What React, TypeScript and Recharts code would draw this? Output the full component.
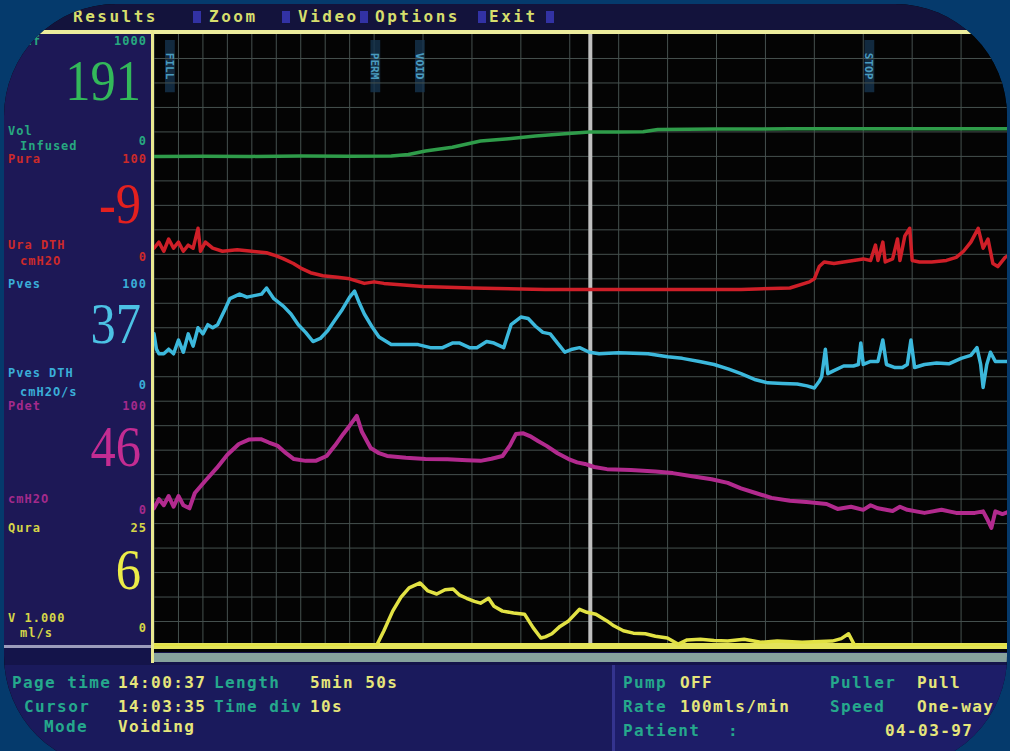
import React from 'react';
import { LineChart, Line, XAxis, YAxis, CartesianGrid, ReferenceLine, ReferenceArea } from 'recharts';

type Pt = [number, number];

// ---------- data ----------
const menuItems = ['Results', 'Zoom', 'Video', 'Options', 'Exit'];

// 10 s per vertical division, 4 ml/s per horizontal division on the flow scale
const gridTimes = [0, 10, 20, 30, 40, 50, 60, 70, 80, 90, 100, 110, 120, 130, 140, 150, 160, 170, 180, 190, 200, 210, 220, 230, 240, 250, 260, 270, 280, 290, 300, 310, 320, 330, 340, 350];
const gridRows = [4, 8, 12, 16, 20, 24, 28, 32, 36, 40, 44, 48, 52, 56, 60, 64, 68, 72, 76, 80, 84, 88, 92, 96];

// infused volume (ml)
const volumeTrace: Pt[] = [
  [0, 171], [20, 171.2], [40, 171], [60, 171.3], [80, 171.2], [97, 171.3], [104, 172.5], [111, 175.4],
  [122, 178.5], [133.5, 183.6], [145, 185.5], [156, 187.7], [168, 189.5], [178, 190.9], [190, 191],
  [200, 191.2], [206, 193], [230, 193.4], [260, 193.5], [300, 193.5], [350, 193.5],
];

// urethral pressure (cmH2O)
const uraTrace: Pt[] = [
  [0, 3], [2, 5], [4, 2], [6, 6], [8, 3], [10, 5], [12, 2], [14, 4], [16, 3], [18, 9.5], [19, 2], [21, 5],
  [24, 3], [28, 2], [34, 2.5], [40, 2], [46, 1.5], [50, 0.5], [53, -0.5], [57, -2], [60, -3.5], [64, -5],
  [69, -6], [75, -6.5], [80, -7], [86, -8.5], [90, -8], [94, -8.5], [110, -9.5], [130, -10], [160, -10.5],
  [180, -10.5], [210, -10.5], [240, -10.5], [260, -10], [268, -8], [270, -7], [272, -3], [274, -1.5],
  [278, -2], [282, -1.5], [286, -1], [290, -0.5], [293, -1], [295, 4], [296, -1], [298, 5], [299, -1.5],
  [302, -0.5], [304, 6], [305, -1], [307, 7], [309, 9.5], [310, -1], [313, -1.5], [318, -1.5], [324, -1],
  [328, 0], [331, 2], [334, 5], [337, 9.5], [339, 3], [341, 6], [343, -2], [345, -3], [348, 0], [350, 1],
];

// vesical pressure (cmH2O)
const vesTrace: Pt[] = [
  [0, 43], [1, 38], [2, 36.5], [4, 36.5], [6, 38], [8, 36.5], [10, 41], [12, 37], [14, 43], [16, 39],
  [18, 45], [20, 43], [22, 46], [24, 45], [26, 46], [29, 51], [31, 54.5], [35, 56], [38, 55], [41, 55.5],
  [44, 56], [46, 58], [49, 54.5], [53, 52], [56, 49.5], [59, 46], [62, 43.5], [65, 40.5], [68, 41.5],
  [71, 44], [74, 47.5], [77, 51], [80, 55], [82, 57], [84, 53], [86, 49.5], [89, 45.5], [92, 42],
  [97, 39.5], [103, 39.5], [108, 39.5], [113, 38.5], [118, 38.5], [122, 40], [125, 40], [129, 38.5],
  [132, 38.5], [136, 40.5], [139, 40], [143, 38.5], [146, 46], [150, 48.5], [153, 48], [156, 45.5],
  [159, 43.5], [162, 43], [165, 40], [168, 37], [171, 38], [174, 38.5], [178, 37], [182, 36.5],
  [190, 36.8], [202, 36.5], [210, 35.5], [216, 35], [223, 34], [229, 33], [235, 31.5], [240, 30],
  [246, 28], [251, 27], [257, 26.8], [263, 26.6], [267, 26], [270, 25.3], [272, 27.5], [273, 29],
  [274.5, 38], [275.5, 30], [278, 31], [282, 32.5], [286, 32.5], [288, 33], [289, 40], [290, 33],
  [293, 34], [296, 34], [298, 41], [299.5, 33], [303, 32], [306, 32], [308, 33], [309.5, 41], [311, 32],
  [315, 33], [320, 33.5], [325, 33.2], [330, 35], [334, 36], [336.5, 38.5], [338, 33], [339, 25.5],
  [340.5, 33], [342, 37], [344, 34], [347, 34], [350, 34],
];

// detrusor pressure (cmH2O)
const detTrace: Pt[] = [
  [0, 33], [2, 36], [4, 34], [6, 37], [8, 33.5], [10, 37], [12, 34], [14.5, 33], [16.7, 38], [21, 42],
  [25.7, 46.2], [30, 50.5], [34.7, 54], [39, 55.5], [43.7, 55.6], [47, 54.5], [50.4, 53.5], [54, 51],
  [57.2, 49.1], [62, 48.5], [66.1, 48.5], [70.6, 50.1], [74, 53.5], [77.4, 57.3], [80, 60], [82.9, 63.2],
  [85, 58], [88.6, 52.7], [92, 51], [95.3, 50.1], [103, 49.5], [111, 49.1], [120, 49], [128, 48.7],
  [133.5, 48.5], [138, 49.2], [142.5, 50.1], [145.5, 53.5], [148, 57.3], [151, 57.5], [153.7, 56.6],
  [157, 55], [160.5, 53.4], [165, 51], [169.5, 49.1], [173, 48], [176.2, 47.5], [180, 46.5],
  [185.2, 45.8], [195, 45.5], [205, 45], [212.1, 44.5], [220, 43.5], [228, 42.5], [234.6, 41.3],
  [240, 39.5], [246, 38], [252.5, 36.4], [260, 35.5], [268, 35], [275, 34.4], [279.5, 32.8], [285, 33.5],
  [290, 32.5], [293, 34], [296, 33], [302, 32.1], [305, 33.5], [308, 32.5], [315, 31.5], [322, 32.5],
  [328, 31.5], [335.6, 31.5], [339, 32], [341, 29], [342.4, 26.6], [344, 32], [346.9, 31.1], [350, 32],
];

// urine flow (ml/s)
const flowTrace: Pt[] = [
  [0, 0], [90.9, 0], [94, 2.5], [97.6, 5.7], [101, 8], [104.3, 9.5], [108.8, 10.3], [112, 9],
  [115.6, 8.5], [119, 9.2], [122.3, 9.3], [125, 8.3], [127.8, 7.8], [131, 7.3], [133.5, 7],
  [136.8, 7.8], [139, 6.5], [142.5, 5.7], [147, 5.4], [151.5, 5.2], [155, 3], [158.2, 1.3], [160, 1.5],
  [162.7, 2], [166, 3.2], [169.5, 4.1], [174, 6], [177, 5.5], [180.7, 5.2], [185.2, 4.1], [188, 3.3],
  [191.9, 2.5], [196, 2.1], [200.9, 2], [205, 1.6], [209.9, 1.3], [214.4, 0.3], [218, 1], [223.4, 1.1],
  [229, 0.9], [234.6, 0.8], [241.3, 1.1], [248, 0.6], [254.8, 0.8], [265, 0.6], [277.3, 0.8], [281, 1.2],
  [284, 2], [286.2, 0.3], [288, 0], [350, 0],
];

const cursorTime = 178.4;
const eventTimes = [6.5, 90.5, 108.7, 292.5];
const eventLabels = ['FILL', 'PERM', 'VOID', 'STOP'];
const eventBand = [90.5, 99];

const channelNames = ['Vinf', 'Pura', 'Pves', 'Pdet', 'Qura'];
const channelFullScale = ['1000', '100', '100', '100', '25'];
const channelZero = ['0', '0', '0', '0', '0'];
const channelReadouts = ['191', '-9', '37', '46', '6'];
const channelUnits = [['Vol', 'Infused'], ['Ura DTH', 'cmH2O'], ['Pves DTH', 'cmH2O/s'], ['cmH2O', ''], ['V 1.000', 'ml/s']];

const infoLeftLabels = ['Page time', 'Cursor', 'Mode'];
const infoLeftValues = ['14:00:37', '14:03:35', 'Voiding'];
const infoMidLabels = ['Length', 'Time div'];
const infoMidValues = ['5min 50s', '10s'];
const infoPumpLabels = ['Pump', 'Rate', 'Patient'];
const infoPumpValues = ['OFF', '100mls/min', ''];
const infoPullLabels = ['Puller', 'Speed'];
const infoPullValues = ['Pull', 'One-way'];
const patientDate = '04-03-97';

// ---------- styling ----------
const toRows = (pts: Pt[]) => pts.map(([t, v]) => ({ t, v }));

const channelStyle = [
  { id: 'vol', color: '#2f9c4a', label: '#27a880', big: '#33b85a', domain: [-229, 271], w: 3.5 },
  { id: 'ura', color: '#cf1f28', label: '#cc2a2a', big: '#e3201f', domain: [-127, 73], w: 3.5 },
  { id: 'ves', color: '#3cb8dc', label: '#3aaed8', big: '#4cc2e4', domain: [-59, 141], w: 3.5 },
  { id: 'det', color: '#b22a8e', label: '#a42a8c', big: '#c42c92', domain: [-12, 188], w: 4 },
  { id: 'flow', color: '#e2e244', label: '#d6d648', big: '#ecec48', domain: [0, 100], w: 3.5 },
];
const traces = [volumeTrace, uraTrace, vesTrace, detTrace, flowTrace];

const panelTop = [34, 152, 277, 399, 521];
const digitTop = [60, 183, 303, 426, 549];
const unitTop = [[124, 139], [238, 254], [366, 385], [492, 0], [611, 626]];
const zeroTop = [134, 250, 378, 503, 621];

const mono = '"DejaVu Sans Mono", "Liberation Mono", monospace';
const gridColor = '#46514f';

const small: React.CSSProperties = {
  position: 'absolute', fontFamily: mono, fontWeight: 'bold', fontSize: 12, lineHeight: '14px',
  letterSpacing: 1, whiteSpace: 'pre',
};
const info: React.CSSProperties = {
  position: 'absolute', fontFamily: mono, fontWeight: 'bold', fontSize: 16, lineHeight: '18px',
  letterSpacing: 1.4, whiteSpace: 'pre',
};
const infoGreen = '#25a88c';
const infoYellow = '#e6e67a';

export default function App() {
  const menuX = [73, 209, 298, 375, 489];
  const sepX = [193, 282, 360, 478, 546];
  const leftRowTop = [674, 698, 718];
  const leftLabelX = [12, 24, 44];
  const rightRowTop = [674, 698, 722];
  return (
    <div style={{ position: 'fixed', left: 0, top: 0, width: 1010, height: 751, background: '#053a6c', overflow: 'hidden' }}>
      <div style={{ position: 'absolute', left: 4, top: 4, width: 1003, height: 764, borderRadius: 112, overflow: 'hidden', background: '#050505' }}>
        <div style={{ position: 'absolute', left: -4, top: -4, width: 1010, height: 751 }}>
          {/* menu bar */}
          <div style={{ position: 'absolute', left: 0, top: 4, width: 1010, height: 26, background: '#13133c' }} />
          {menuItems.map((m, i) => (
            <div key={m} style={{ position: 'absolute', left: menuX[i], top: 7, fontFamily: mono, fontWeight: 'bold', fontSize: 16, lineHeight: '20px', letterSpacing: 2.5, color: '#d6de6c' }}>{m}</div>
          ))}
          {sepX.map((x, i) => (
            <div key={i} style={{ position: 'absolute', left: x, top: 11, width: 8, height: 12, background: '#3232a4' }} />
          ))}
          <div style={{ position: 'absolute', left: 0, top: 30, width: 1010, height: 4, background: '#ecec9c' }} />

          {/* left channel panel */}
          <div style={{ position: 'absolute', left: 0, top: 34, width: 151, height: 611, background: '#1d1856' }} />
          {channelStyle.map((c, i) => (
            <React.Fragment key={c.id}>
              <div style={{ ...small, left: 8, top: panelTop[i], color: c.label }}>{channelNames[i]}</div>
              <div style={{ ...small, left: 0, width: 147, textAlign: 'right', top: panelTop[i], color: c.label }}>{channelFullScale[i]}</div>
              <div style={{ position: 'absolute', left: 0, width: 141, textAlign: 'right', top: digitTop[i], fontFamily: '"Liberation Serif", serif', fontSize: 58, lineHeight: '42px', color: c.big, transform: 'scaleX(0.87)', transformOrigin: 'right center' }}>{channelReadouts[i]}</div>
              <div style={{ ...small, left: 8, top: unitTop[i][0], color: c.label }}>{channelUnits[i][0]}</div>
              {channelUnits[i][1] ? <div style={{ ...small, left: 20, top: unitTop[i][1], color: c.label }}>{channelUnits[i][1]}</div> : null}
              <div style={{ ...small, left: 0, width: 147, textAlign: 'right', top: zeroTop[i], color: c.label }}>{channelZero[i]}</div>
            </React.Fragment>
          ))}
          <div style={{ position: 'absolute', left: 0, top: 645, width: 151, height: 3, background: '#9c9cbc' }} />
          <div style={{ position: 'absolute', left: 0, top: 648, width: 1010, height: 17, background: '#14144a' }} />
          <div style={{ position: 'absolute', left: 154, top: 653, width: 856, height: 9, background: '#86a29c' }} />
          <div style={{ position: 'absolute', left: 151, top: 30, width: 3, height: 633, background: '#e8e890' }} />

          {/* plot */}
          <div style={{ position: 'absolute', left: 154, top: 34, width: 856, height: 618 }}>
            <LineChart width={856} height={618} margin={{ top: 0, right: 0, bottom: 6, left: 0 }} style={{ background: '#040404' }}>
              <XAxis type="number" dataKey="t" domain={[0, 350]} ticks={gridTimes} hide />
              <YAxis type="number" domain={[0, 100]} hide />
              {channelStyle.map((c) => (
                <YAxis key={c.id} yAxisId={c.id} type="number" domain={c.domain} hide allowDataOverflow />
              ))}
              <CartesianGrid stroke={gridColor} strokeWidth={1} horizontal={false} />
              {gridRows.map((r) => (
                <ReferenceLine key={'row' + r} y={r} yAxisId="flow" stroke={gridColor} strokeWidth={1} />
              ))}
              {eventTimes.map((t, i) => (
                <ReferenceArea key={'ev' + i} x1={t - 2} x2={t + 2} y1={eventBand[0]} y2={eventBand[1]} yAxisId="flow"
                  fill="#17344f" fillOpacity={0.8} stroke="none"
                  label={{ value: eventLabels[i], angle: 90, fill: '#4a9cc0', fontSize: 11, fontFamily: mono, fontWeight: 'bold' }} />
              ))}
              <ReferenceLine x={cursorTime} yAxisId="flow" stroke="#c0c0c0" strokeWidth={4} />
              <ReferenceLine y={0} yAxisId="flow" stroke="#e4e45a" strokeWidth={6} />
              {channelStyle.map((c, i) => (
                <Line key={c.id} yAxisId={c.id} data={toRows(traces[i])} dataKey="v" type="linear"
                  stroke={c.color} strokeWidth={c.w} dot={false} isAnimationActive={false}
                  strokeLinejoin="round" strokeLinecap="round" />
              ))}
            </LineChart>
          </div>

          {/* bottom info panel */}
          <div style={{ position: 'absolute', left: 0, top: 665, width: 1010, height: 90, background: '#1a1a5c' }} />
          <div style={{ position: 'absolute', left: 612, top: 665, width: 398, height: 90, background: '#1d1d68', borderLeft: '3px solid #34348e' }} />
          {infoLeftLabels.map((l, i) => (
            <div key={l} style={{ ...info, left: leftLabelX[i], top: leftRowTop[i], color: infoGreen }}>{l}</div>
          ))}
          {infoLeftValues.map((v, i) => (
            <div key={v} style={{ ...info, left: 118, top: leftRowTop[i], color: infoYellow }}>{v}</div>
          ))}
          {infoMidLabels.map((l, i) => (
            <div key={l} style={{ ...info, left: 214, top: leftRowTop[i], color: infoGreen }}>{l}</div>
          ))}
          {infoMidValues.map((v, i) => (
            <div key={v} style={{ ...info, left: 310, top: leftRowTop[i], color: infoYellow }}>{v}</div>
          ))}
          {infoPumpLabels.map((l, i) => (
            <div key={l} style={{ ...info, left: 623, top: rightRowTop[i], color: infoGreen }}>{l}</div>
          ))}
          {infoPumpValues.map((v, i) => (
            <div key={i} style={{ ...info, left: 680, top: rightRowTop[i], color: infoYellow }}>{v}</div>
          ))}
          {infoPullLabels.map((l, i) => (
            <div key={l} style={{ ...info, left: 830, top: rightRowTop[i], color: infoGreen }}>{l}</div>
          ))}
          {infoPullValues.map((v, i) => (
            <div key={v} style={{ ...info, left: 917, top: rightRowTop[i], color: infoYellow }}>{v}</div>
          ))}
          <div style={{ ...info, left: 728, top: rightRowTop[2], color: infoGreen }}>:</div>
          <div style={{ ...info, left: 885, top: rightRowTop[2], color: infoYellow }}>{patientDate}</div>
        </div>
      </div>
    </div>
  );
}
